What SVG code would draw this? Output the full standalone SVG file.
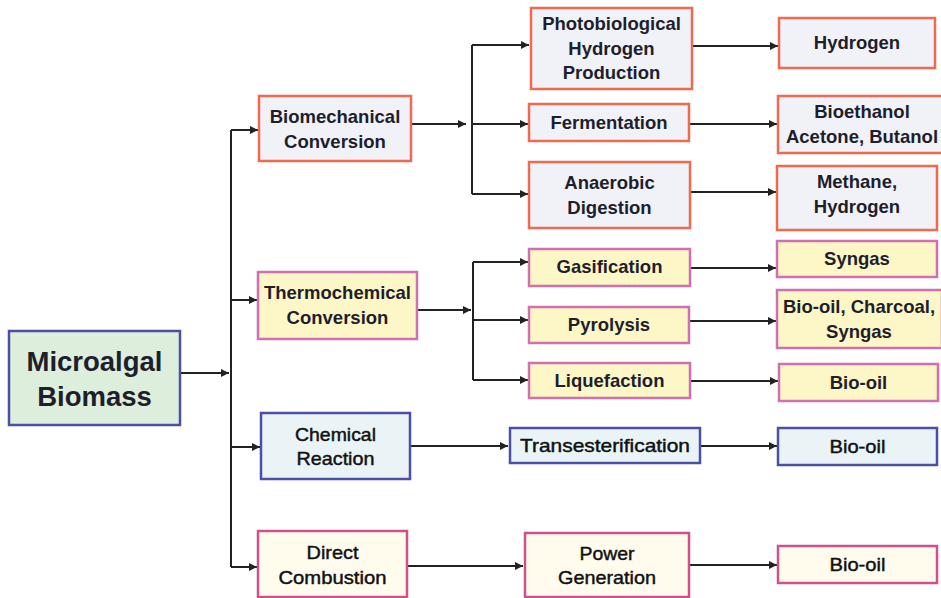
<svg xmlns="http://www.w3.org/2000/svg" width="941" height="598" viewBox="0 0 941 598">
<defs>
<marker id="ah" viewBox="0 0 10 10" refX="10" refY="5" markerWidth="11" markerHeight="8" markerUnits="userSpaceOnUse" orient="auto">
<path d="M0,0 L10,5 L0,10 z" fill="#222"/>
</marker>
<style>
.bio rect{fill:#f0f2f8;stroke:#f06a50;stroke-width:2.5}
.thm rect{fill:#fdf6c6;stroke:#d070b0;stroke-width:2.5}
.chm rect{fill:#eaf4f7;stroke:#4a50a8;stroke-width:2.5}
.dir rect{fill:#fffcee;stroke:#d0508a;stroke-width:2.5}
text{font-family:"Liberation Sans",Arial,sans-serif;font-weight:bold;font-size:18.5px;fill:#1e1e2c;text-anchor:middle}
.n text{font-weight:normal;font-size:19px;fill:#111;stroke:#111;stroke-width:0.45}
.c line,.c path{stroke:#222;stroke-width:2;fill:none}
</style>
</defs>
<rect width="941" height="598" fill="#fff"/>
<g class="c" id="connectors">
<line x1="180" y1="373" x2="229" y2="373" marker-end="url(#ah)"/>
<line x1="231" y1="130" x2="231" y2="567"/>
<line x1="231" y1="130" x2="258" y2="130" marker-end="url(#ah)"/>
<line x1="231" y1="300" x2="257" y2="300" marker-end="url(#ah)"/>
<line x1="231" y1="447" x2="260" y2="447" marker-end="url(#ah)"/>
<line x1="231" y1="567" x2="257" y2="567" marker-end="url(#ah)"/>
<line x1="411" y1="124" x2="466" y2="124" marker-end="url(#ah)"/>
<line x1="472" y1="45" x2="472" y2="194"/>
<line x1="472" y1="45" x2="529" y2="45" marker-end="url(#ah)"/>
<line x1="472" y1="124" x2="528" y2="124" marker-end="url(#ah)"/>
<line x1="472" y1="194" x2="528" y2="194" marker-end="url(#ah)"/>
<line x1="692" y1="46" x2="778" y2="46" marker-end="url(#ah)"/>
<line x1="690" y1="124" x2="777" y2="124" marker-end="url(#ah)"/>
<line x1="690" y1="192" x2="776" y2="192" marker-end="url(#ah)"/>
<line x1="417" y1="310" x2="471" y2="310" marker-end="url(#ah)"/>
<line x1="473" y1="262" x2="473" y2="380"/>
<line x1="473" y1="262" x2="528" y2="262" marker-end="url(#ah)"/>
<line x1="473" y1="320" x2="528" y2="320" marker-end="url(#ah)"/>
<line x1="473" y1="380" x2="528" y2="380" marker-end="url(#ah)"/>
<line x1="690" y1="268" x2="776" y2="268" marker-end="url(#ah)"/>
<line x1="689" y1="321" x2="776" y2="321" marker-end="url(#ah)"/>
<line x1="690" y1="381" x2="778" y2="381" marker-end="url(#ah)"/>
<line x1="410" y1="446" x2="508" y2="446" marker-end="url(#ah)"/>
<line x1="700" y1="446" x2="777" y2="446" marker-end="url(#ah)"/>
<line x1="407" y1="566" x2="523" y2="566" marker-end="url(#ah)"/>
<line x1="689" y1="565" x2="777" y2="565" marker-end="url(#ah)"/>
</g>
<g id="microalgal">
<rect x="9" y="331" width="171" height="94" fill="#ddeedd" stroke="#4a4fa8" stroke-width="2.5"/>
<text x="94.5" y="371" style="font-size:27.5px">Microalgal</text>
<text x="94.5" y="406" style="font-size:27.5px">Biomass</text>
</g>
<g id="biomechanical" class="bio">
<rect x="259" y="96" width="152" height="65"/>
<text x="335" y="123">Biomechanical</text>
<text x="335" y="148">Conversion</text>
</g>
<g id="photobiological" class="bio">
<rect x="531" y="8" width="161" height="81"/>
<text x="611.5" y="30">Photobiological</text>
<text x="611.5" y="55">Hydrogen</text>
<text x="611.5" y="79">Production</text>
</g>
<g id="fermentation" class="bio">
<rect x="529" y="104" width="160" height="37"/>
<text x="609" y="129">Fermentation</text>
</g>
<g id="anaerobic" class="bio">
<rect x="529" y="162" width="161" height="66"/>
<text x="609.5" y="189">Anaerobic</text>
<text x="609.5" y="214">Digestion</text>
</g>
<g id="hydrogen" class="bio">
<rect x="779" y="18" width="156" height="50"/>
<text x="857" y="49">Hydrogen</text>
</g>
<g id="bioethanol" class="bio">
<rect x="778" y="96" width="165" height="57"/>
<text x="862" y="118">Bioethanol</text>
<text x="862" y="143">Acetone, Butanol</text>
</g>
<g id="methane" class="bio">
<rect x="777" y="166" width="160" height="64"/>
<text x="857" y="188">Methane,</text>
<text x="857" y="213">Hydrogen</text>
</g>
<g id="thermochemical" class="thm">
<rect x="258" y="272" width="159" height="67"/>
<text x="337.5" y="299">Thermochemical</text>
<text x="337.5" y="324">Conversion</text>
</g>
<g id="gasification" class="thm">
<rect x="529" y="249" width="161" height="37"/>
<text x="609.5" y="273">Gasification</text>
</g>
<g id="pyrolysis" class="thm">
<rect x="529" y="307" width="160" height="36"/>
<text x="609" y="331">Pyrolysis</text>
</g>
<g id="liquefaction" class="thm">
<rect x="529" y="363" width="161" height="35"/>
<text x="609.5" y="387">Liquefaction</text>
</g>
<g id="syngas" class="thm">
<rect x="777" y="241" width="160" height="36"/>
<text x="857" y="265">Syngas</text>
</g>
<g id="biooil-charcoal" class="thm">
<rect x="777" y="290" width="165" height="58"/>
<text x="859" y="313">Bio-oil, Charcoal,</text>
<text x="859" y="338">Syngas</text>
</g>
<g id="biooil-thermo" class="thm">
<rect x="779" y="364" width="159" height="37"/>
<text x="858.5" y="389">Bio-oil</text>
</g>
<g id="chemical" class="chm n">
<rect x="261" y="413" width="149" height="66"/>
<text x="335.5" y="441" textLength="81" lengthAdjust="spacingAndGlyphs">Chemical</text>
<text x="335.5" y="465" textLength="78" lengthAdjust="spacingAndGlyphs">Reaction</text>
</g>
<g id="transesterification" class="chm n">
<rect x="510" y="428" width="190" height="35"/>
<text x="605" y="452" textLength="170" lengthAdjust="spacingAndGlyphs">Transesterification</text>
</g>
<g id="biooil-chem" class="chm n">
<rect x="778" y="428" width="159" height="37"/>
<text x="857.5" y="453" textLength="56" lengthAdjust="spacingAndGlyphs">Bio-oil</text>
</g>
<g id="direct" class="dir n">
<rect x="258" y="531" width="149" height="66"/>
<text x="332.5" y="559" textLength="52" lengthAdjust="spacingAndGlyphs">Direct</text>
<text x="332.5" y="584" textLength="108" lengthAdjust="spacingAndGlyphs">Combustion</text>
</g>
<g id="power" class="dir n">
<rect x="525" y="533" width="164" height="64"/>
<text x="607" y="560" textLength="55" lengthAdjust="spacingAndGlyphs">Power</text>
<text x="607" y="584" textLength="98" lengthAdjust="spacingAndGlyphs">Generation</text>
</g>
<g id="biooil-power" class="dir n">
<rect x="778" y="546" width="159" height="37"/>
<text x="857.5" y="571" textLength="56" lengthAdjust="spacingAndGlyphs">Bio-oil</text>
</g>
</svg>
